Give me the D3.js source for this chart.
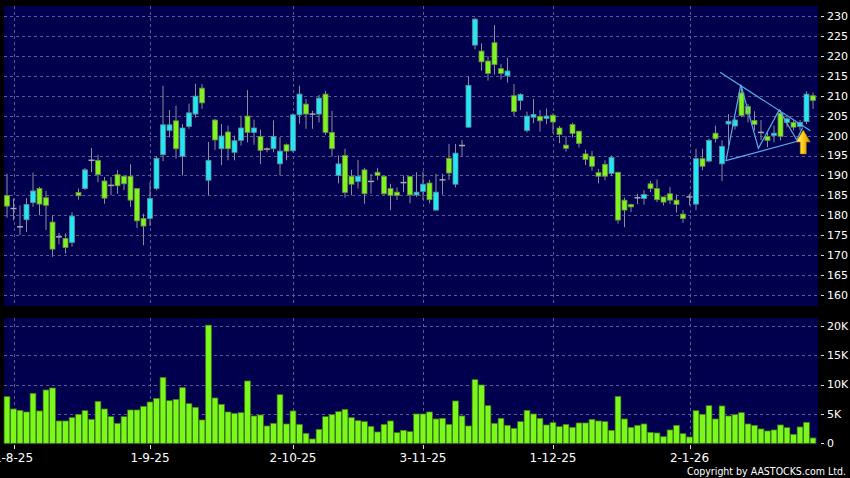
<!DOCTYPE html>
<html>
<head>
<meta charset="utf-8">
<style>
  body { margin: 0; background: #000; }
  svg { display: block; }
</style>
</head>
<body>
<svg width="850" height="478"></svg>
<script src="https://d3js.org/d3.v7.min.js"></script>
<script>
    // daily OHLC + volume, 31-7-25 .. 29-1-26
    var opens = [185.0,181.7,177.1,178.9,183.2,186.7,184.4,178.3,174.6,174.2,
        173.2,185.7,186.7,193.8,193.8,188.6,187.5,190.2,189.8,189.8,
        186.7,179.2,179.2,186.7,195.2,201.3,203.7,194.8,202.3,205.4,
        211.9,188.8,203.9,196.7,200.9,195.8,198.8,204.9,200.8,199.8,
        196.6,196.7,192.9,197.7,196.2,205.2,207.9,205.4,205.4,210.4,
        200.8,190.0,195.0,189.8,188.5,191.4,188.5,190.8,189.8,186.7,
        185.8,188.2,189.7,185.1,186.0,188.1,181.3,188.9,194.3,187.8,
        197.5,202.1,222.7,221.2,218.7,223.3,216.8,215.0,210.0,208.8,
        201.3,204.6,204.8,204.3,205.1,201.9,197.6,202.8,201.1,195.4,
        194.8,190.7,192.8,190.5,190.8,183.8,182.7,184.4,184.2,187.9,
        186.7,184.6,185.4,183.8,180.3,184.6,182.8,194.2,193.6,200.6,
        192.9,202.9,202.4,210.7,207.3,203.8,200.8,199.8,200.0,205.6,
        203.3,203.3,202.3,203.5,210.0];
    var highs = [190.4,184.2,182.5,184.3,190.7,187.1,186.1,180.0,175.6,175.4,
        180.8,186.7,191.9,196.9,195.2,189.6,189.6,191.3,190.0,192.8,
        186.7,180.4,188.3,194.8,212.5,206.4,207.5,202.9,208.0,213.0,
        212.9,198.4,204.2,202.9,202.5,200.0,205.0,211.4,204.0,201.5,
        197.1,203.8,199.6,198.0,205.6,212.5,209.2,206.2,210.2,211.2,
        206.2,195.0,196.7,191.4,193.9,191.9,190.4,191.9,190.0,187.9,
        187.0,190.0,189.8,190.8,191.0,188.9,190.4,190.4,197.9,197.9,
        198.9,214.9,229.6,223.1,219.9,227.7,218.0,219.5,212.9,210.6,
        206.0,209.2,206.4,206.8,205.6,202.4,199.8,203.2,201.2,196.5,
        196.1,191.6,193.8,195.0,190.8,184.4,182.9,185.4,186.3,188.6,
        189.0,184.6,187.1,185.2,181.3,185.4,196.7,196.7,199.2,202.5,
        198.8,205.4,204.5,212.5,207.9,206.1,203.9,200.8,202.5,206.4,
        204.6,203.8,203.9,211.1,210.8];
    var lows = [179.4,178.7,175.0,175.8,182.1,180.0,176.3,169.6,172.7,170.4,
        172.1,183.9,186.3,190.8,188.3,182.9,185.0,185.4,186.3,182.1,
        176.8,172.5,177.3,186.3,193.6,199.5,194.2,190.0,201.7,204.5,
        206.7,185.0,196.4,192.6,193.8,193.8,197.5,198.3,197.7,192.9,
        195.8,195.8,190.0,193.8,195.8,203.0,201.7,201.7,203.3,200.2,
        194.7,188.0,184.4,185.0,186.7,182.9,185.4,188.8,185.0,181.3,
        183.8,185.8,183.0,184.6,183.9,183.0,181.2,185.2,188.9,187.0,
        194.8,202.0,221.6,216.3,213.8,215.3,214.1,213.3,204.9,206.4,
        200.8,203.1,201.0,202.9,200.6,198.1,196.0,199.5,197.0,192.6,
        191.2,188.0,188.8,189.8,177.9,177.0,180.8,182.8,182.7,185.8,
        183.3,182.5,182.8,180.7,178.1,182.5,181.3,191.3,193.3,198.3,
        188.6,197.5,201.5,204.6,203.3,201.3,198.9,197.1,198.3,198.8,
        202.1,201.3,201.3,202.9,206.7];
    var closes = [182.3,181.7,177.1,182.7,186.1,182.8,182.5,171.5,174.6,171.9,
        179.8,184.9,191.4,193.8,190.2,184.3,187.5,187.4,187.9,183.8,
        178.6,177.3,184.2,194.3,202.7,202.7,196.7,201.9,205.7,209.9,
        208.2,193.8,198.9,199.9,196.7,198.7,201.9,200.8,201.9,196.3,
        196.6,199.8,196.1,196.1,205.2,210.4,205.4,205.4,209.4,200.8,
        196.7,192.9,185.7,187.8,189.8,185.4,188.5,190.0,185.4,185.0,
        185.0,188.2,185.1,185.8,187.8,183.9,185.8,188.9,190.6,195.6,
        197.5,212.6,229.2,218.5,215.6,217.8,215.6,216.2,206.0,210.3,
        204.9,205.3,203.7,204.9,203.4,200.3,196.8,200.5,198.0,194.0,
        192.3,189.8,189.8,194.5,178.8,181.3,182.1,184.4,185.2,186.7,
        183.9,183.3,183.8,182.7,179.2,184.6,194.2,192.3,198.8,199.2,
        197.3,203.6,203.9,205.0,205.4,202.8,200.8,198.8,200.6,199.8,
        204.2,202.1,203.3,210.4,208.8];
    var volumes = [7930,5840,5610,5330,8500,5500,9070,9410,3800,3800,
        4360,4930,5550,4080,7140,5840,4530,3400,4530,5670,
        5670,6290,7030,7650,11220,7250,7480,9460,6740,6120,
        3970,20100,7710,6630,5330,5100,5210,10600,4650,4820,
        2950,3400,8270,3290,5500,3230,1700,740,2380,4530,
        4870,5380,5780,4360,3850,3680,2890,1930,3230,3800,
        1810,2210,1980,4990,4990,5330,4140,4250,3230,7200,
        4650,2950,10820,9920,6400,3400,4250,3060,2550,3680,
        5610,4990,4250,3120,3510,2830,3230,2720,3460,3460,
        4080,3800,3680,2210,7990,4140,2720,3060,3290,1870,
        1760,1130,2270,3060,1640,1080,5550,4930,6400,4140,
        6350,4650,4870,5210,3290,3060,2440,2100,2270,3120,
        2660,1530,2780,3570,910];

    var tickLabels = ["1-8-25", "1-9-25", "2-10-25", "3-11-25", "1-12-25", "2-1-26"];
    var tickIndex = [1, 22, 44, 64, 84, 105];
    var priceTicks = [160, 165, 170, 175, 180, 185, 190, 195, 200, 205, 210, 215, 220, 225, 230];
    var volTicks = [0, 5000, 10000, 15000, 20000];
    var volTickLabels = ["0", "5K", "10K", "15K", "20K"];

    // triangle drawn on the chart: [index, price]
    var upperLine = [[109.7, 215.9], [123.6, 201.2]];
    var lowerLine = [[110.6, 193.7], [122.3, 198.9]];
    var zigzag = [[110.6, 193.6], [112.9, 212.8], [115.6, 196.8], [118.8, 206.4], [121.5, 198.9], [122.4, 202.0]];
    var arrowAt = { i: 122.5, tip: 201.4, head: 198.4, base: 195.4 };

    var svg = d3.select("svg");
    var W = 850, H = 478;
    var plotL = 4, plotR = 818;
    var priceTop = 6, priceBot = 306;
    var volTop = 318, volBot = 444;

    svg.append("rect").attr("width", W).attr("height", H).attr("fill", "#000");

    var data = opens.map(function (o, i) {
        return { i: i, o: o, h: highs[i], l: lows[i], c: closes[i], v: volumes[i] };
    });

    var x = d3.scaleBand().domain(d3.range(data.length)).range([3.75, 816.25]);
    var cx = function (i) { return x(0) + x.step() * i + x.step() / 2; };
    var y = d3.scaleLinear().domain([160, 230]).range([295, 16]);
    var yv = d3.scaleLinear().domain([0, 20000]).range([443.3, 325.7]);

    var defs = svg.append("defs");
    defs.append("clipPath").attr("id", "clipP").append("rect")
        .attr("x", plotL).attr("y", priceTop).attr("width", plotR - plotL).attr("height", priceBot - priceTop);
    var grad = defs.append("linearGradient").attr("id", "arrowGrad").attr("x1", "0").attr("x2", "1").attr("y1", "0").attr("y2", "0");
    grad.append("stop").attr("offset", "0%").attr("stop-color", "#fff2a0");
    grad.append("stop").attr("offset", "45%").attr("stop-color", "#ffd21a");
    grad.append("stop").attr("offset", "100%").attr("stop-color", "#d68a00");

    // panels
    svg.append("rect").attr("x", plotL).attr("y", priceTop).attr("width", plotR - plotL).attr("height", priceBot - priceTop).attr("fill", "#00004e");
    svg.append("rect").attr("x", plotL).attr("y", volTop).attr("width", plotR - plotL).attr("height", volBot - volTop).attr("fill", "#00004e");

    var gridColor = "#5a5a94";

    // horizontal grid - price
    svg.append("g").selectAll("line").data(priceTicks).enter().append("line")
        .attr("x1", plotL).attr("x2", plotR)
        .attr("y1", function (d) { return Math.round(y(d)) + 0.5; })
        .attr("y2", function (d) { return Math.round(y(d)) + 0.5; })
        .attr("stroke", gridColor).attr("stroke-dasharray", "3,3");

    // horizontal grid - volume
    svg.append("g").selectAll("line").data(volTicks.slice(1)).enter().append("line")
        .attr("x1", plotL).attr("x2", plotR)
        .attr("y1", function (d) { return Math.round(yv(d)) + 0.5; })
        .attr("y2", function (d) { return Math.round(yv(d)) + 0.5; })
        .attr("stroke", gridColor).attr("stroke-dasharray", "3,3");

    // vertical grid
    tickIndex.forEach(function (t) {
        [[priceTop, priceBot], [volTop, volBot]].forEach(function (r) {
            svg.append("line")
                .attr("x1", Math.round(cx(t)) + 0.5).attr("x2", Math.round(cx(t)) + 0.5)
                .attr("y1", r[0]).attr("y2", r[1])
                .attr("stroke", gridColor).attr("stroke-dasharray", "3,3");
        });
    });

    var up = "#22e6f2", down = "#80f21e";

    // candles
    var candles = svg.append("g").attr("clip-path", "url(#clipP)");
    candles.selectAll(".wick").data(data).enter().append("line")
        .attr("class", "wick")
        .attr("x1", function (d) { return cx(d.i); })
        .attr("x2", function (d) { return cx(d.i); })
        .attr("y1", function (d) { return y(d.h); })
        .attr("y2", function (d) { return y(d.l); })
        .attr("stroke", "#8c8c9c").attr("stroke-width", 1);

    candles.selectAll(".body").data(data.filter(function (d) { return Math.abs(d.o - d.c) > 0.05; })).enter().append("rect")
        .attr("class", "body")
        .attr("x", function (d) { return cx(d.i) - 2.5; })
        .attr("width", 5)
        .attr("y", function (d) { return y(Math.max(d.o, d.c)); })
        .attr("height", function (d) { return Math.max(1.5, Math.abs(y(d.o) - y(d.c))); })
        .attr("fill", function (d) { return d.c > d.o ? up : down; })
        .attr("stroke", function (d) { return d.c > d.o ? "#5c8c9c" : "#6a8a4a"; })
        .attr("stroke-width", 0.8);

    candles.selectAll(".doji").data(data.filter(function (d) { return Math.abs(d.o - d.c) <= 0.05; })).enter().append("line")
        .attr("class", "doji")
        .attr("x1", function (d) { return cx(d.i) - 3; })
        .attr("x2", function (d) { return cx(d.i) + 3; })
        .attr("y1", function (d) { return y(d.c); })
        .attr("y2", function (d) { return y(d.c); })
        .attr("stroke", "#a8a8b0").attr("stroke-width", 1.5);

    // triangle annotation
    var line = d3.line().x(function (d) { return cx(d[0]); }).y(function (d) { return y(d[1]); });
    [upperLine, lowerLine, zigzag].forEach(function (pts) {
        svg.append("path").attr("d", line(pts))
            .attr("fill", "none").attr("stroke", "#58aee8").attr("stroke-width", 1.2);
    });

    // yellow up arrow
    var ax = cx(arrowAt.i), aw = 7, sw = 3;
    svg.append("path")
        .attr("d", "M" + ax + "," + y(arrowAt.tip) +
            "L" + (ax + aw) + "," + y(arrowAt.head) +
            "L" + (ax + sw) + "," + y(arrowAt.head) +
            "L" + (ax + sw) + "," + y(arrowAt.base) +
            "L" + (ax - sw) + "," + y(arrowAt.base) +
            "L" + (ax - sw) + "," + y(arrowAt.head) +
            "L" + (ax - aw) + "," + y(arrowAt.head) + "Z")
        .attr("fill", "url(#arrowGrad)").attr("stroke", "#b87800").attr("stroke-width", 0.6);

    // volume bars
    svg.append("g").selectAll("rect").data(data).enter().append("rect")
        .attr("x", function (d) { return cx(d.i) - 2.9; })
        .attr("width", 5.8)
        .attr("y", function (d) { return yv(d.v); })
        .attr("height", function (d) { return yv(0) - yv(d.v); })
        .attr("fill", "#7cf71a")
        .attr("stroke", "#3c7a18").attr("stroke-width", 0.7);

    // right axis - price
    var font = "DejaVu Sans, sans-serif";
    var pAxis = svg.append("g");
    priceTicks.forEach(function (t) {
        pAxis.append("line").attr("x1", 821).attr("x2", 824)
            .attr("y1", Math.round(y(t)) + 0.5).attr("y2", Math.round(y(t)) + 0.5)
            .attr("stroke", "#ddd");
        pAxis.append("text").attr("x", 827).attr("y", y(t)).attr("dy", "0.36em")
            .attr("fill", "#fff").style("font", "11px " + font).text(t);
    });

    // right axis - volume
    volTicks.forEach(function (t, k) {
        pAxis.append("line").attr("x1", 821).attr("x2", 824)
            .attr("y1", Math.round(yv(t)) + 0.5).attr("y2", Math.round(yv(t)) + 0.5)
            .attr("stroke", "#ddd");
        pAxis.append("text").attr("x", 827).attr("y", yv(t)).attr("dy", "0.36em")
            .attr("fill", "#fff").style("font", "11px " + font).text(volTickLabels[k]);
    });

    // date axis
    tickIndex.forEach(function (t, k) {
        svg.append("line").attr("x1", Math.round(cx(t)) + 0.5).attr("x2", Math.round(cx(t)) + 0.5)
            .attr("y1", 445).attr("y2", 449).attr("stroke", "#ddd");
        svg.append("text").attr("x", cx(t)).attr("y", 462)
            .attr("text-anchor", "middle").attr("fill", "#fff")
            .style("font", "12px " + font).text(tickLabels[k]);
    });

    svg.append("text").attr("x", 846).attr("y", 475).attr("text-anchor", "end")
        .attr("fill", "#fff").style("font", "10.5px 'DejaVu Sans Condensed', " + font)
        .text("Copyright by AASTOCKS.com Ltd.");
</script>
</body>
</html>
